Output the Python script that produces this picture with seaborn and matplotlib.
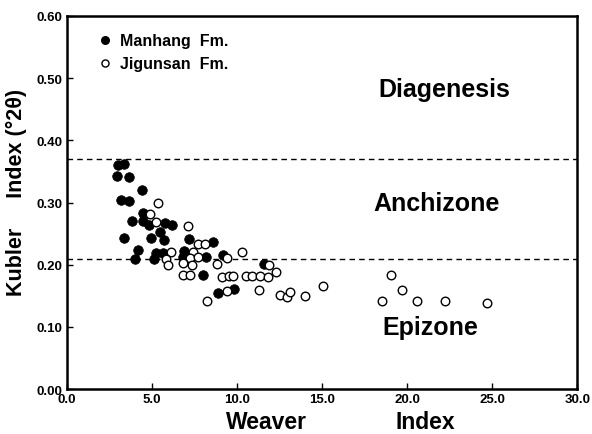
import matplotlib
matplotlib.use("Agg")
import matplotlib.pyplot as plt
import seaborn as sns
import pandas as pd

manhang_x = [3.02, 3.37, 2.92, 3.63, 4.39, 3.16, 3.66, 4.49, 3.84, 4.45, 4.82, 5.76, 6.16,
             3.35, 4.94, 5.47, 5.72, 4.19, 4.00, 5.12, 5.66, 5.24, 7.19, 8.57, 6.88, 6.84,
             8.18, 9.19, 8.02, 8.86, 9.84, 11.61]
manhang_y = [0.361, 0.362, 0.342, 0.341, 0.321, 0.304, 0.303, 0.284, 0.271, 0.271, 0.264, 0.267, 0.264,
             0.243, 0.243, 0.252, 0.240, 0.223, 0.209, 0.210, 0.219, 0.219, 0.242, 0.237, 0.222, 0.212,
             0.212, 0.215, 0.183, 0.154, 0.161, 0.202]

jigunsan_x = [5.34, 4.88, 5.24, 6.10, 5.82, 5.96, 7.14, 7.69, 8.12, 7.43, 7.24, 7.72, 9.39, 10.28,
              6.81, 7.34, 8.84, 6.84, 7.24, 9.10, 9.55, 9.78, 10.53, 9.43, 8.25, 11.90, 12.28,
              10.86, 11.35, 11.81, 11.31, 12.53, 12.92, 13.12, 14.00, 15.08, 19.04, 19.69,
              18.51, 20.57, 22.24, 24.69]
jigunsan_y = [0.300, 0.281, 0.268, 0.220, 0.210, 0.199, 0.262, 0.233, 0.233, 0.221, 0.211, 0.212, 0.211, 0.221,
              0.203, 0.199, 0.201, 0.183, 0.183, 0.181, 0.182, 0.182, 0.182, 0.158, 0.141, 0.200, 0.189,
              0.182, 0.182, 0.180, 0.160, 0.151, 0.149, 0.157, 0.150, 0.166, 0.184, 0.160,
              0.141, 0.141, 0.141, 0.139]

boundaries = [0.37, 0.21]
zone_labels = ["Diagenesis", "Anchizone", "Epizone"]
zone_pos = [(22.2, 0.482), (21.75, 0.300), (21.35, 0.100)]
x_ticks = [0, 5, 10, 15, 20, 25, 30]
y_ticks = [0.0, 0.1, 0.2, 0.3, 0.4, 0.5, 0.6]
x_label_words = ["Weaver", "Index"]
x_label_pos = [11.76, 21.06]

sns.set_theme(style="ticks")
plt.rcParams['font.family'] = ['Liberation Sans', 'DejaVu Sans']
plt.rcParams['font.weight'] = 'bold'
plt.rcParams['text.color'] = 'black'
plt.rcParams['axes.labelcolor'] = 'black'
plt.rcParams['xtick.color'] = 'black'
plt.rcParams['ytick.color'] = 'black'

fig = plt.figure(figsize=(5.92, 4.35), dpi=100)
ax = fig.add_axes([0.113, 0.103, 0.862, 0.858])

df_m = pd.DataFrame({"x": manhang_x, "y": manhang_y})
df_j = pd.DataFrame({"x": jigunsan_x, "y": jigunsan_y})

sns.scatterplot(data=df_m, x="x", y="y", ax=ax, s=48, color="black",
                edgecolor="black", linewidth=0.5, marker="o", zorder=3)
sns.scatterplot(data=df_j, x="x", y="y", ax=ax, s=38, facecolor="white",
                edgecolor="black", linewidth=1.0, marker="o", zorder=3)

for b in boundaries:
    ax.axhline(b, color="black", linestyle=(0, (4, 3)), linewidth=1.0, zorder=1)

for lab, (tx, ty) in zip(zone_labels, zone_pos):
    ax.text(tx, ty, lab, fontsize=18, fontweight="bold", ha="center", va="center", color="black")

# legend
ax.scatter([2.25], [0.561], s=30, color="black", zorder=4)
ax.text(3.1, 0.561, "Manhang  Fm.", fontsize=11.5, fontweight="bold", va="center", color="black")
ax.scatter([2.25], [0.524], s=26, facecolor="white", edgecolor="black", linewidth=1.0, zorder=4)
ax.text(3.1, 0.524, "Jigunsan  Fm.", fontsize=11.5, fontweight="bold", va="center", color="black")

ax.set_xlim(0, 30)
ax.set_ylim(0, 0.6)
ax.set_xticks(x_ticks)
ax.set_xticklabels([f"{v:.1f}" for v in x_ticks], fontsize=9.5, fontweight="bold")
ax.set_yticks(y_ticks)
ax.set_yticklabels([f"{v:.2f}" for v in y_ticks], fontsize=9.5, fontweight="bold")
ax.set_xlabel("")
trans = matplotlib.transforms.blended_transform_factory(ax.transData, ax.transAxes)
for w, px in zip(x_label_words, x_label_pos):
    ax.text(px, -0.087, w, transform=trans, fontsize=16.5, fontweight="bold",
            ha="center", va="center", color="black")
ax.set_ylabel("Kubler     Index (°2θ)", fontsize=15.5, fontweight="bold")
ax.yaxis.set_label_coords(-0.079, 0.53)
for s in ax.spines.values():
    s.set_linewidth(1.8)
    s.set_color("black")
ax.tick_params(direction="in", length=4, width=1, pad=3, colors="black")

fig.savefig("out.png", dpi=100)
